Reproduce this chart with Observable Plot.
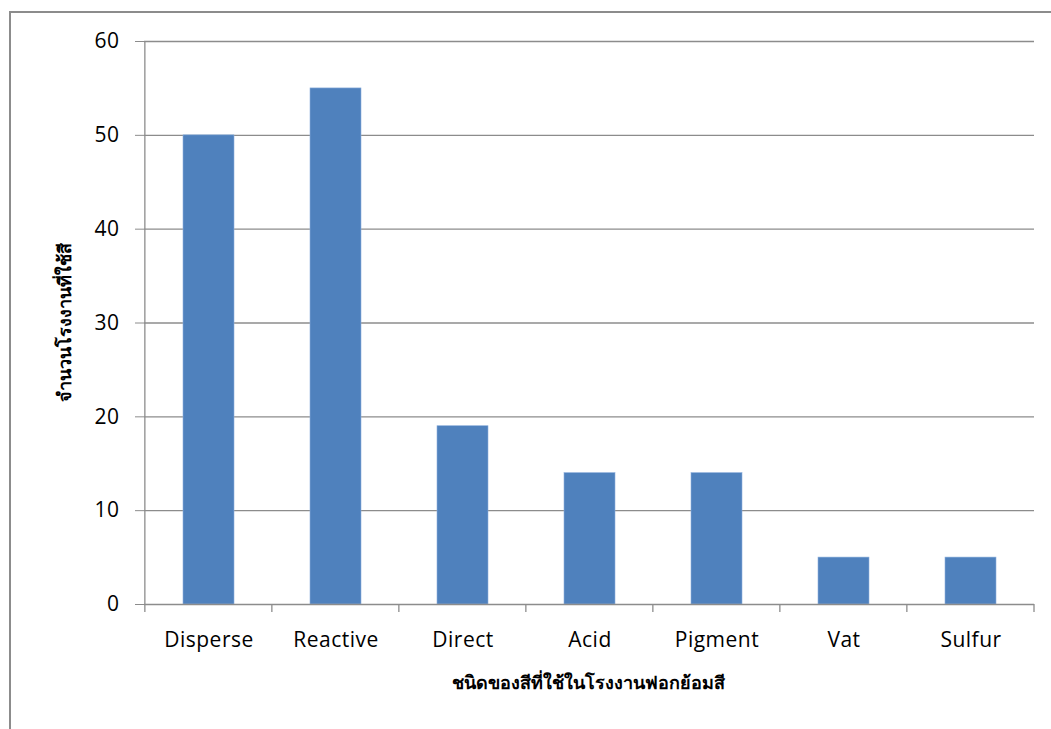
<!DOCTYPE html>
<html>
<head>
<meta charset="utf-8">
<script src="https://cdn.jsdelivr.net/npm/d3@7"></script>
<script src="https://cdn.jsdelivr.net/npm/@observablehq/plot@0.6"></script>
<style>
  html, body { margin: 0; padding: 0; background: #fff; }
  #wrap { position: relative; width: 1051px; height: 729px; overflow: hidden; }
  #frame { position: absolute; left: 9px; top: 11px; width: 1060px; height: 730px;
           border-left: 2px solid #8c8c8c; border-top: 2px solid #8c8c8c; }
  #chart { position: absolute; left: 0; top: 0; }
  #chart svg text { font-family: "Open Sans", sans-serif; font-size: 21px; letter-spacing: 0.5px; fill: #000; }
  .ylab { position: absolute; left: 64px; top: 322px; transform: translate(-50%, -50%) rotate(-90deg);
          font: bold 18px "DejaVu Serif", serif; white-space: nowrap; color: #000; }
  .xlab { position: absolute; left: 588px; top: 682px; transform: translate(-50%, -50%);
          font: bold 18px "DejaVu Serif", serif; white-space: nowrap; color: #000; }
</style>
</head>
<body>
<div id="wrap">
  <div id="frame"></div>
  <div id="chart"></div>
  <div class="ylab">จำนวนโรงงานที่ใช้สี</div>
  <div class="xlab">ชนิดของสีที่ใช้ในโรงงานฟอกย้อมสี</div>
</div>
<script>
// Dye types and number of factories using each
const dyeTypes = ["Disperse", "Reactive", "Direct", "Acid", "Pigment", "Vat", "Sulfur"];
const factoryCounts = [50, 55, 19, 14, 14, 5, 5];
const yTicks = [0, 10, 20, 30, 40, 50, 60];

const rows = dyeTypes.map((type, i) => ({type, count: factoryCounts[i]}));
const gray = "#8c8c8c";
const padOuter = 0.3;

// Axis lines plus the category-boundary ticks under the x axis
function axisLines(index, scales, values, dims) {
  const g = d3.create("svg:g").attr("stroke", gray).attr("fill", "none");
  const step = (dims.width - dims.marginLeft - dims.marginRight) / dyeTypes.length;
  const y0 = scales.y(0), yTop = scales.y(60);
  const left = scales.x(dyeTypes[0]) - padOuter * step;
  g.append("line").attr("x1", left).attr("x2", left).attr("y1", y0).attr("y2", yTop).attr("stroke-width", 1.3);
  const bounds = dyeTypes.map(t => scales.x(t) - padOuter * step);
  bounds.push(bounds[bounds.length - 1] + step);
  for (const bx of bounds) {
    g.append("line").attr("x1", bx).attr("x2", bx).attr("y1", y0).attr("y2", y0 + 8).attr("stroke-width", 1.3);
  }
  return g.node();
}

const chart = Plot.plot({
  width: 1051,
  height: 729,
  marginLeft: 144,
  marginRight: 17,
  marginTop: 41,
  marginBottom: 125,
  style: {background: "transparent", color: "#000"},
  x: {domain: dyeTypes, paddingInner: 0.6, paddingOuter: padOuter, label: null},
  y: {domain: [0, 60], ticks: yTicks, label: null},
  marks: [
    Plot.gridY(yTicks.filter(t => t > 0), {stroke: gray, strokeOpacity: 1, strokeWidth: 1.3}),
    Plot.barY(rows, {x: "type", y: "count", fill: "#4f81bd", stroke: "#8eb0dc", strokeWidth: 0.6}),
    Plot.ruleY([0], {stroke: gray, strokeWidth: 1.3}),
    Plot.axisY({ticks: yTicks, tickSize: 9, tickPadding: 16, stroke: gray}),
    Plot.axisX({tickSize: 0, tickPadding: 28}),
    axisLines
  ]
});
document.getElementById("chart").appendChild(chart);
</script>
</body>
</html>
